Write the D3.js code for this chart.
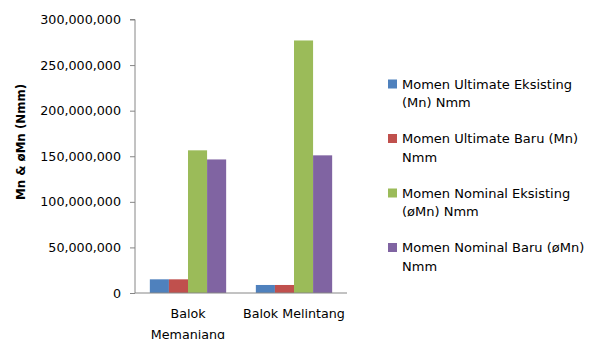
<!DOCTYPE html>
<html>
<head>
<meta charset="utf-8">
<script src="https://cdn.jsdelivr.net/npm/d3@7"></script>
<style>
  html, body { margin: 0; padding: 0; background: #fff; }
  svg { display: block; }
  text { font-family: "DejaVu Sans", Verdana, sans-serif; fill: #000; }
</style>
</head>
<body>
<svg id="chart" width="606" height="339"></svg>
<script>
// Beam categories and moment values (Nmm)
const categories = [["Balok", "Memaniang"], ["Balok Melintang"]];
const seriesNames = [
  "Momen Ultimate Eksisting (Mn) Nmm",
  "Momen Ultimate Baru (Mn) Nmm",
  "Momen Nominal Eksisting (øMn) Nmm",
  "Momen Nominal Baru (øMn) Nmm"
];
const legendLines = [
  ["Momen Ultimate Eksisting", "(Mn) Nmm"],
  ["Momen Ultimate Baru (Mn)", "Nmm"],
  ["Momen Nominal Eksisting", "(øMn) Nmm"],
  ["Momen Nominal Baru (øMn)", "Nmm"]
];
const ultimateEksisting = [15000000, 8800000];
const ultimateBaru = [15000000, 8800000];
const nominalEksisting = [156500000, 277000000];
const nominalBaru = [146500000, 151000000];
const yTicks = [0, 50000000, 100000000, 150000000, 200000000, 250000000, 300000000];
const colors = ["#4F81BD", "#C0504D", "#9BBB59", "#8064A2"];

const values = [ultimateEksisting, ultimateBaru, nominalEksisting, nominalBaru];

const svg = d3.select("#chart");
const plot = { left: 135, right: 347, top: 19.5, bottom: 293 };

const x = d3.scaleBand().domain(d3.range(categories.length))
  .range([plot.left, plot.right]).paddingInner(0.28).paddingOuter(0.14);
const xs = d3.scaleBand().domain(d3.range(seriesNames.length))
  .range([0, x.bandwidth()]);
const y = d3.scaleLinear().domain([0, 300000000]).range([plot.bottom, plot.top]);

// Bars
values.forEach((vals, s) => {
  svg.append("g").selectAll("rect").data(vals).join("rect")
    .attr("x", (d, i) => x(i) + xs(s))
    .attr("y", d => y(d))
    .attr("width", xs.bandwidth())
    .attr("height", d => y(0) - y(d))
    .attr("fill", colors[s]);
});

// Y axis
const yAxis = d3.axisLeft(y).tickValues(yTicks).tickSize(5).tickPadding(9)
  .tickFormat(d => d3.format(",")(d));
const gy = svg.append("g").attr("transform", `translate(${plot.left},0)`).call(yAxis);
gy.select(".domain").attr("stroke", "#868686").attr("d", `M-5,${plot.top}H0V${plot.bottom}`);
gy.selectAll(".tick line").attr("stroke", "#868686");
gy.selectAll(".tick text").attr("font-size", 12.7).attr("font-family", "DejaVu Sans").attr("fill", "#000");

// X axis baseline
svg.append("line")
  .attr("x1", plot.left).attr("x2", plot.right)
  .attr("y1", plot.bottom).attr("y2", plot.bottom)
  .attr("stroke", "#868686");

// Category labels
categories.forEach((lines, i) => {
  const t = svg.append("text")
    .attr("x", x(i) + x.bandwidth() / 2)
    .attr("y", 318)
    .attr("text-anchor", "middle")
    .attr("font-size", 12.7);
  lines.forEach((ln, j) => {
    t.append("tspan").attr("x", x(i) + x.bandwidth() / 2)
      .attr("dy", j === 0 ? 0 : 21).text(ln);
  });
});

// Y axis title
svg.append("text")
  .attr("transform", "translate(25,142) rotate(-90)")
  .attr("text-anchor", "middle")
  .attr("font-size", 11.8)
  .attr("font-weight", "bold")
  .text("Mn & øMn (Nmm)");

// Legend
const legend = svg.append("g");
legendLines.forEach((lines, i) => {
  const y0 = 84 + i * 54.5;
  legend.append("rect")
    .attr("x", 388).attr("y", y0 - 4.5)
    .attr("width", 9).attr("height", 9)
    .attr("fill", colors[i]);
  lines.forEach((ln, j) => {
    legend.append("text")
      .attr("x", 402).attr("y", y0 + j * 18.5)
      .attr("dy", "0.35em")
      .attr("font-size", 13)
      .text(ln);
  });
});
</script>
</body>
</html>
